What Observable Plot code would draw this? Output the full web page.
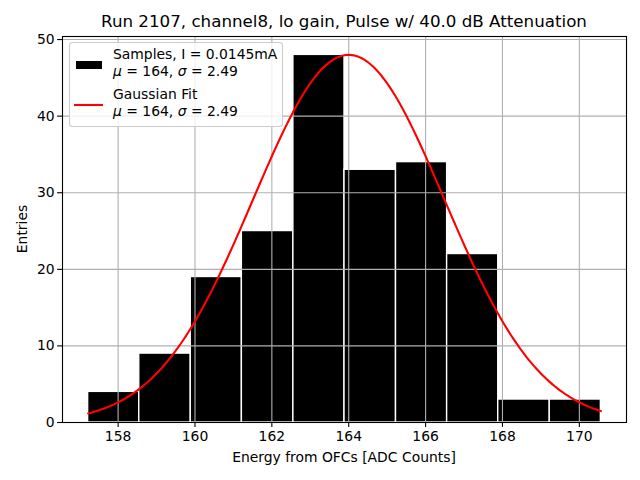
<!DOCTYPE html>
<html>
<head>
<meta charset="utf-8">
<script src="https://cdn.jsdelivr.net/npm/d3@7"></script>
<script src="https://cdn.jsdelivr.net/npm/@observablehq/plot@0.6"></script>
<style>
  html, body { margin: 0; padding: 0; background: white; }
  svg text { font-family: "DejaVu Sans", sans-serif; }
</style>
</head>
<body>
<div id="chart"></div>
<script>
// ---- data ----
const binEdges = [157.22, 158.55, 159.89, 161.22, 162.56, 163.89, 165.23, 166.56, 167.89, 169.23, 170.56];
const counts = [4, 9, 19, 25, 48, 33, 34, 22, 3, 3];
const xTicks = [158, 160, 162, 164, 166, 168, 170];
const yTicks = [0, 10, 20, 30, 40, 50];
// Gaussian fit parameters (from the legend / peak)
const fitMu = 164.0;
const fitSigma = 2.49;
const fitAmp = 48.0;
const titleText = "Run 2107, channel8, lo gain, Pulse w/ 40.0 dB Attenuation";
const xLabel = "Energy from OFCs [ADC Counts]";
const yLabel = "Entries";
const legendSamples = "Samples, I = 0.0145mA";
const legendFit = "Gaussian Fit";

// ---- derived tables ----
const bins = counts.map((c, i) => ({x1: binEdges[i], x2: binEdges[i + 1], count: c}));
const lo = binEdges[0], hi = binEdges[binEdges.length - 1];
const nPts = 200;
const curve = d3.range(nPts).map(i => {
  const x = lo + (hi - lo) * i / (nPts - 1);
  return {x, y: fitAmp * Math.exp(-((x - fitMu) ** 2) / (2 * fitSigma ** 2))};
});
const pad = (hi - lo) * 0.05;

const W = 640, H = 480;
const mL = 62, mR = 14, mT = 36, mB = 58;

const chart = Plot.plot({
  width: W, height: H,
  marginLeft: mL, marginRight: mR, marginTop: mT, marginBottom: mB,
  style: {fontFamily: "DejaVu Sans", fontSize: "13.9px", background: "white", color: "black"},
  x: {domain: [lo - pad, hi + pad]},
  y: {domain: [0, d3.max(counts) * 1.05]},
  marks: [
    Plot.rectY(bins, {x1: "x1", x2: "x2", y1: 0, y2: "count", fill: "black", stroke: "white", strokeWidth: 1.4}),
    Plot.gridX(xTicks, {stroke: "#b0b0b0", strokeOpacity: 1, strokeWidth: 1.1}),
    Plot.gridY(yTicks, {stroke: "#b0b0b0", strokeOpacity: 1, strokeWidth: 1.1}),
    Plot.line(curve, {x: "x", y: "y", stroke: "red", strokeWidth: 2.1}),
    Plot.axisX({ticks: xTicks, tickSize: 4.9, tickPadding: 4, fontSize: 13.9, label: null, strokeWidth: 1.1}),
    Plot.axisY({ticks: yTicks, tickSize: 4.9, tickPadding: 3, fontSize: 13.9, label: null, strokeWidth: 1.1}),
    Plot.frame({stroke: "black", strokeWidth: 1.1})
  ]
});

document.getElementById("chart").appendChild(chart);
const svg = d3.select(chart);

// title & axis labels
svg.append("text").attr("x", (mL + W - mR) / 2).attr("y", 27)
  .attr("text-anchor", "middle").attr("font-size", "16.7px").attr("fill", "black").text(titleText);
svg.append("text").attr("x", (mL + W - mR) / 2).attr("y", 462)
  .attr("text-anchor", "middle").attr("font-size", "13.9px").attr("fill", "black").text(xLabel);
svg.append("text").attr("transform", `translate(27,${(mT + H - mB) / 2}) rotate(-90)`)
  .attr("text-anchor", "middle").attr("font-size", "13.9px").attr("fill", "black").text(yLabel);

// legend
const lg = svg.append("g").attr("font-size", "13.9px").attr("text-anchor", "start");
lg.append("rect").attr("x", 69.5).attr("y", 42.5).attr("width", 213).attr("height", 84)
  .attr("rx", 3).attr("fill", "white").attr("fill-opacity", 0.8).attr("stroke", "#cccccc").attr("stroke-width", 1.1);
lg.append("rect").attr("x", 76).attr("y", 61).attr("width", 26).attr("height", 8).attr("fill", "black");
lg.append("line").attr("x1", 74).attr("x2", 103).attr("y1", 105).attr("y2", 105)
  .attr("stroke", "red").attr("stroke-width", 2.1);

function statLine(y) {
  const t = lg.append("text").attr("x", 113).attr("y", y).attr("fill", "black").attr("text-anchor", "start");
  t.append("tspan").attr("font-style", "italic").text("\u03bc");
  t.append("tspan").text(` = ${Math.round(fitMu)}, `);
  t.append("tspan").attr("font-style", "italic").text("\u03c3");
  t.append("tspan").text(` = ${fitSigma.toFixed(2)}`);
}
lg.append("text").attr("x", 113).attr("y", 59).attr("fill", "black").attr("text-anchor", "start").text(legendSamples);
statLine(76);
lg.append("text").attr("x", 113).attr("y", 99).attr("fill", "black").attr("text-anchor", "start").text(legendFit);
statLine(116);
</script>
</body>
</html>
